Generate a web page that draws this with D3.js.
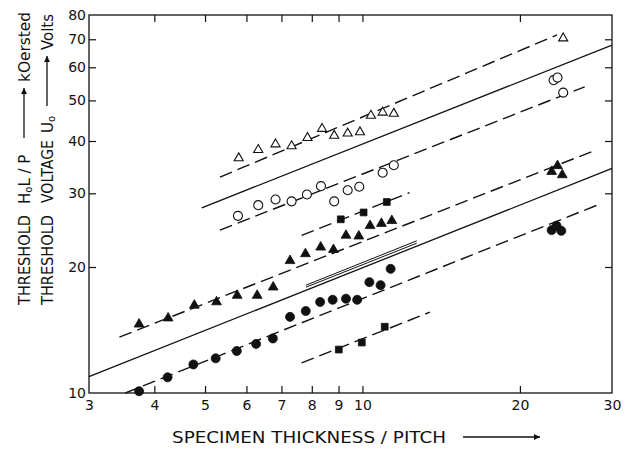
<!DOCTYPE html>
<html>
<head>
<meta charset="utf-8">
<script src="https://cdn.jsdelivr.net/npm/d3@7"></script>
<style>
  body { margin: 0; background: #fff; }
  svg text { font-family: "DejaVu Sans", sans-serif; fill: #111; }
</style>
</head>
<body>
<div id="rootContainer"></div>
<script>
// tick values
const xTicks = [3, 4, 5, 6, 7, 8, 9, 10, 20, 30];
const yTicks = [10, 20, 30, 40, 50, 60, 70, 80];

// measured points (thickness / pitch, threshold)
const openTriX = [5.80, 6.32, 6.82, 7.32, 7.85, 8.37, 8.83, 9.37, 9.89, 10.38, 10.93, 11.48, 24.2];
const openTriY = [36.4, 38.1, 39.3, 38.9, 40.7, 42.8, 41.2, 41.7, 42.0, 46.0, 46.8, 46.5, 70.4];

const openCircX = [5.78, 6.32, 6.82, 7.32, 7.83, 8.33, 8.83, 9.37, 9.86, 10.93, 11.48, 23.2, 23.6, 24.2];
const openCircY = [26.5, 28.1, 29.0, 28.7, 29.8, 31.2, 28.7, 30.5, 31.1, 33.6, 35.0, 55.9, 56.7, 52.2];

const filledTriX = [3.74, 4.25, 4.77, 5.26, 5.76, 6.29, 6.75, 7.27, 7.78, 8.32, 8.80, 9.30, 9.84, 10.34, 10.87, 11.38, 23.0, 23.6, 24.1];
const filledTriY = [14.6, 15.1, 16.2, 16.5, 17.1, 17.1, 17.9, 20.7, 21.5, 22.3, 22.0, 23.8, 23.7, 25.1, 25.4, 25.8, 33.8, 34.9, 33.2];

const filledCircX = [3.74, 4.24, 4.75, 5.24, 5.75, 6.26, 6.74, 7.27, 7.79, 8.30, 8.77, 9.30, 9.77, 10.31, 10.83, 11.32, 23.0, 23.5, 24.0];
const filledCircY = [10.1, 10.9, 11.7, 12.1, 12.6, 13.1, 13.5, 15.2, 15.7, 16.5, 16.7, 16.8, 16.7, 18.4, 18.1, 19.8, 24.5, 25.1, 24.4];

const squareUpX = [9.09, 10.05, 11.13];
const squareUpY = [26.0, 27.0, 28.6];
const squareLoX = [9.01, 9.97, 11.03];
const squareLoY = [12.7, 13.2, 14.4];

// fitted lines: [x0, y0, x1, y1]
const dashedLines = [
  [5.34, 32.8, 23.55, 71.7],
  [5.34, 24.5, 26.6, 53.9],
  [3.43, 13.6, 28.0, 38.1],
  [3.52, 10.0, 28.7, 28.4],
  [7.65, 23.8, 12.3, 30.1],
  [7.65, 11.8, 13.46, 15.6]
];
const solidLines = [
  [4.93, 27.7, 30, 67.8],
  [3, 10.94, 30, 34.4]
];
const doubleLines = [
  [7.8, 17.9, 12.7, 22.8],
  [7.8, 18.1, 12.7, 23.1]
];

var width = 627, height = 451;
var svg = d3.select("#rootContainer").append("svg")
    .attr("width", width)
    .attr("height", height);

var x = d3.scaleLog().domain([3, 30]).range([89, 612]);
var y = d3.scaleLog().domain([10, 80]).range([393, 15]);

var ink = "#111";

// frame
svg.append("rect")
    .attr("x", x(3)).attr("y", y(80))
    .attr("width", x(30) - x(3)).attr("height", y(10) - y(80))
    .attr("fill", "none").attr("stroke", ink).attr("stroke-width", 1.3);

// axes (ticks pointing inwards)
var xAxis = svg.append("g")
    .attr("transform", "translate(0," + y(10) + ")")
    .call(d3.axisBottom(x).tickValues(xTicks).tickFormat(d3.format("d"))
      .tickSizeInner(-7).tickSizeOuter(0).tickPadding(7));
var yAxis = svg.append("g")
    .attr("transform", "translate(" + x(3) + ",0)")
    .call(d3.axisLeft(y).tickValues(yTicks).tickFormat(d3.format("d"))
      .tickSizeInner(-7).tickSizeOuter(0).tickPadding(3));
svg.append("g")
    .attr("transform", "translate(0," + y(80) + ")")
    .call(d3.axisTop(x).tickValues(xTicks.slice(1, 9)).tickFormat("")
      .tickSizeInner(-7).tickSizeOuter(0));
svg.append("g")
    .attr("transform", "translate(" + x(30) + ",0)")
    .call(d3.axisRight(y).tickValues(yTicks.slice(1, 7)).tickFormat("")
      .tickSizeInner(-7).tickSizeOuter(0));

svg.selectAll(".domain").remove();
svg.selectAll(".tick line").attr("stroke", ink).attr("stroke-width", 1.2);
svg.selectAll(".tick text").style("font-size", "14px").style("fill", ink);
xAxis.selectAll(".tick line").filter(d => d === 3 || d === 30).remove();
yAxis.selectAll(".tick line").filter(d => d === 10 || d === 80).remove();

// lines
function drawLine(d, dashed, w) {
  svg.append("line")
      .attr("x1", x(d[0])).attr("y1", y(d[1]))
      .attr("x2", x(d[2])).attr("y2", y(d[3]))
      .attr("stroke", ink)
      .attr("stroke-width", w)
      .attr("stroke-dasharray", dashed ? "13,6" : null);
}
dashedLines.forEach(d => drawLine(d, true, 1.4));
solidLines.forEach(d => drawLine(d, false, 1.3));
doubleLines.forEach(d => drawLine(d, false, 1));

// markers
function drawSeries(xs, ys, type, size, filled) {
  var sym = d3.symbol().type(type).size(size);
  svg.append("g")
      .selectAll("path")
      .data(xs)
      .enter().append("path")
      .attr("transform", (d, i) => "translate(" + x(d) + "," + y(ys[i]) + ")")
      .attr("d", sym)
      .attr("fill", filled ? ink : "#fff")
      .attr("stroke", ink)
      .attr("stroke-width", filled ? 0.8 : 1.1);
}
drawSeries(openTriX, openTriY, d3.symbolTriangle, 36, false);
drawSeries(openCircX, openCircY, d3.symbolCircle, 64, false);
drawSeries(filledTriX, filledTriY, d3.symbolTriangle, 42, true);
drawSeries(filledCircX, filledCircY, d3.symbolCircle, 64, true);
drawSeries(squareUpX, squareUpY, d3.symbolSquare, 46, true);
drawSeries(squareLoX, squareLoY, d3.symbolSquare, 46, true);

// arrow head marker
svg.append("defs").append("marker")
    .attr("id", "head")
    .attr("viewBox", "0 0 10 10")
    .attr("refX", 10).attr("refY", 5)
    .attr("markerWidth", 9).attr("markerHeight", 6)
    .attr("markerUnits", "userSpaceOnUse")
    .attr("orient", "auto")
    .append("path").attr("d", "M0,0L10,5L0,10Z").attr("fill", ink);

// x axis title
svg.append("text")
    .attr("x", 172).attr("y", 443)
    .attr("textLength", 274).attr("lengthAdjust", "spacingAndGlyphs")
    .style("font-size", "15px")
    .text("SPECIMEN THICKNESS / PITCH");
svg.append("line")
    .attr("x1", 463).attr("y1", 437).attr("x2", 540).attr("y2", 437)
    .attr("stroke", ink).attr("stroke-width", 1.3)
    .attr("marker-end", "url(#head)");

// y axis titles (rotated, reading bottom to top)
var yt = svg.append("g").attr("transform", "rotate(-90)");
function rotText(bottom, top, base, str) {
  return yt.append("text")
      .attr("x", -bottom).attr("y", base)
      .attr("textLength", bottom - top)
      .attr("lengthAdjust", "spacingAndGlyphs")
      .style("font-size", "15px")
      .text(str);
}
function rotArrow(bottom, top, cx) {
  svg.append("line")
      .attr("x1", cx).attr("y1", bottom).attr("x2", cx).attr("y2", top)
      .attr("stroke", ink).attr("stroke-width", 1.3)
      .attr("marker-end", "url(#head)");
}
// line 1
rotText(305, 215, 30, "THRESHOLD");
var h = yt.append("text").attr("x", -204).attr("y", 30).style("font-size", "15px");
h.append("tspan").text("H");
h.append("tspan").attr("dy", 2).style("font-size", "10px").text("o");
h.append("tspan").attr("dy", -2).text("L / P");
rotArrow(138, 88, 24);
rotText(82, 12, 30, "kOersted");
// line 2
rotText(305, 215, 53, "THRESHOLD");
rotText(203, 140, 53, "VOLTAGE");
var u = yt.append("text").attr("x", -133).attr("y", 53).style("font-size", "15px");
u.append("tspan").text("U");
u.append("tspan").attr("dy", 2).style("font-size", "10px").text("o");
rotArrow(106, 56, 47);
rotText(50, 14, 53, "Volts");
</script>
</body>
</html>
